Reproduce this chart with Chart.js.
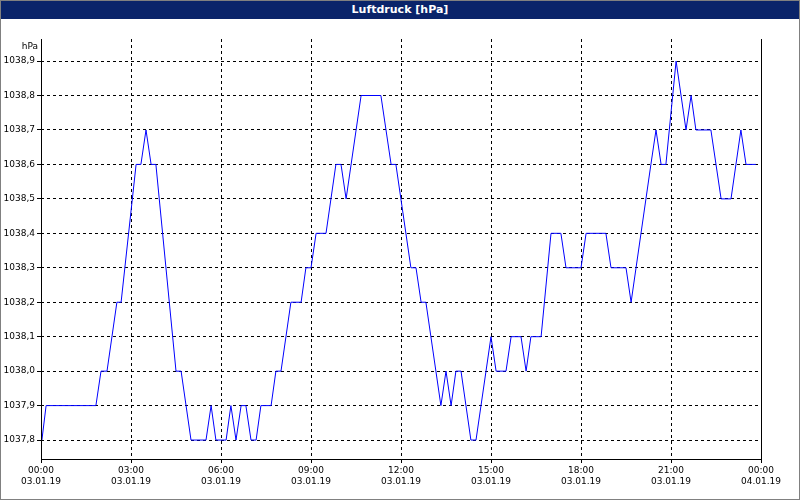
<!DOCTYPE html>
<html>
<head>
<meta charset="utf-8">
<script src="https://cdn.jsdelivr.net/npm/chart.js@4"></script>
<style>
  body { margin: 0; background: #fff; }
  #wrap { width: 798px; height: 498px; border: 1px solid #808080; position: relative; }
  #title { height: 18px; background: #0a246a; color: #fff; font: bold 11px "DejaVu Sans", sans-serif;
           text-align: center; line-height: 18px; }
</style>
</head>
<body>
<div id="wrap">
  <div id="title">Luftdruck [hPa]</div>
  <div style="width:798px;height:480px"><canvas id="c"></canvas></div>
</div>
<script>
// time in hours since 03.01.19 00:00
const hours = [0.03, 0.17, 1.83, 2.0, 2.2, 2.53, 2.67, 3.17, 3.33, 3.5, 3.67, 3.83, 4.5, 4.67, 5.0, 5.5, 5.67, 5.83,
  6.17, 6.33, 6.5, 6.67, 6.83, 7.0, 7.17, 7.33, 7.67, 7.83, 8.0, 8.33, 8.67, 8.83, 9.0, 9.17, 9.5, 9.83, 10.0, 10.17,
  10.67, 11.33, 11.67, 11.83, 12.33, 12.5, 12.67, 12.83, 13.33, 13.5, 13.67, 13.83, 14.0, 14.33, 14.5, 15.0, 15.17,
  15.5, 15.67, 16.0, 16.17, 16.33, 16.67, 17.0, 17.33, 17.5, 18.0, 18.17, 18.83, 19.0, 19.5, 19.67, 20.33, 20.5,
  20.67, 20.83, 21.17, 21.5, 21.67, 21.83, 22.33, 22.67, 23.0, 23.33, 23.5, 23.83];
const pressure = [1037.8, 1037.9, 1037.9, 1038.0, 1038.0, 1038.2, 1038.2, 1038.6, 1038.6, 1038.7, 1038.6, 1038.6,
  1038.0, 1038.0, 1037.8, 1037.8, 1037.9, 1037.8, 1037.8, 1037.9, 1037.8, 1037.9, 1037.9, 1037.8, 1037.8, 1037.9,
  1037.9, 1038.0, 1038.0, 1038.2, 1038.2, 1038.3, 1038.3, 1038.4, 1038.4, 1038.6, 1038.6, 1038.5, 1038.8, 1038.8,
  1038.6, 1038.6, 1038.3, 1038.3, 1038.2, 1038.2, 1037.9, 1038.0, 1037.9, 1038.0, 1038.0, 1037.8, 1037.8, 1038.1,
  1038.0, 1038.0, 1038.1, 1038.1, 1038.0, 1038.1, 1038.1, 1038.4, 1038.4, 1038.3, 1038.3, 1038.4, 1038.4, 1038.3,
  1038.3, 1038.2, 1038.6, 1038.7, 1038.6, 1038.6, 1038.9, 1038.7, 1038.8, 1038.7, 1038.7, 1038.5, 1038.5, 1038.7,
  1038.6, 1038.6];
const xTicks = [0, 3, 6, 9, 12, 15, 18, 21, 24];
const xTimes = ["00:00", "03:00", "06:00", "09:00", "12:00", "15:00", "18:00", "21:00", "00:00"];
const xDates = ["03.01.19", "03.01.19", "03.01.19", "03.01.19", "03.01.19", "03.01.19", "03.01.19", "03.01.19", "04.01.19"];
const yTicks = [1037.8, 1037.9, 1038.0, 1038.1, 1038.2, 1038.3, 1038.4, 1038.5, 1038.6, 1038.7, 1038.8, 1038.9];

const tickFont = { family: "DejaVu Sans", size: 9 };

const frame = {
  id: "frame",
  afterDraw(chart) {
    const { ctx, chartArea: a } = chart;
    ctx.save();
    ctx.strokeStyle = "#000";
    ctx.lineWidth = 1;
    ctx.beginPath();
    ctx.moveTo(a.left + 0.5, a.top); ctx.lineTo(a.left + 0.5, a.bottom + 0.5);
    ctx.lineTo(a.right + 0.5, a.bottom + 0.5); ctx.lineTo(a.right + 0.5, a.top);
    ctx.stroke();
    ctx.fillStyle = "#000";
    ctx.font = "9px DejaVu Sans";
    ctx.textAlign = "right";
    ctx.fillText("hPa", a.left - 3, a.top + 10);
    ctx.restore();
  }
};

new Chart(document.getElementById("c"), {
  type: "line",
  data: {
    datasets: [{
      data: hours.map((h, i) => ({ x: h, y: pressure[i] })),
      borderColor: "#0000ff",
      borderWidth: 1,
      pointRadius: 0,
      tension: 0
    }]
  },
  options: {
    responsive: true,
    maintainAspectRatio: false,
    animation: false,
    layout: { padding: { top: 20, right: 38, left: 0, bottom: 0 } },
    plugins: { legend: { display: false }, tooltip: { enabled: false } },
    scales: {
      x: {
        type: "linear", min: 0, max: 24,
        afterBuildTicks: s => { s.ticks = xTicks.map(v => ({ value: v })); },
        afterFit: s => { s.height = 40; },
        grid: { color: "#000", drawTicks: true, tickLength: 4, tickColor: "#000" },
        border: { display: false, dash: [3, 3] },
        ticks: {
          color: "#000", font: tickFont, maxRotation: 0, autoSkip: false, padding: 2,
          callback: (v, i) => [xTimes[i], xDates[i]]
        }
      },
      y: {
        min: 1037.745, max: 1038.964,
        afterBuildTicks: s => { s.ticks = yTicks.map(v => ({ value: v })); },
        afterFit: s => { s.width = 40; },
        grid: { color: "#000", drawTicks: true, tickLength: 4, tickColor: "#000" },
        border: { display: false, dash: [3, 3] },
        ticks: {
          color: "#000", font: tickFont, padding: 2,
          callback: v => v.toFixed(1).replace(".", ",")
        }
      }
    }
  },
  plugins: [frame]
});
</script>
</body>
</html>
